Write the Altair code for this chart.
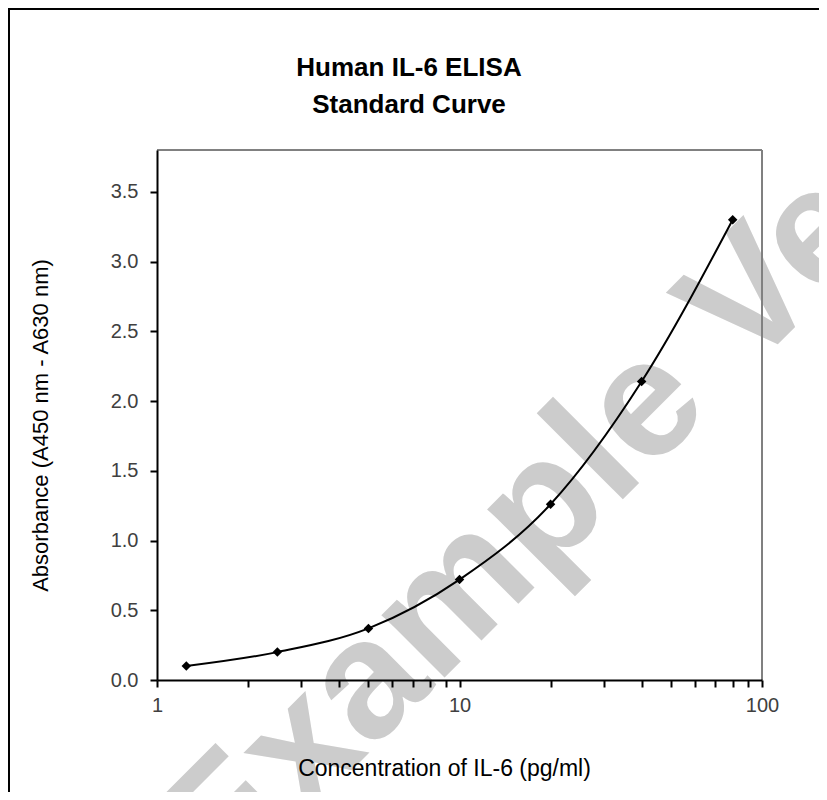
import altair as alt
import pandas as pd

# ---- data ----
conc = [1.25, 2.5, 5, 10, 20, 40, 80]
absorbance = [0.10, 0.20, 0.37, 0.72, 1.26, 2.14, 3.30]
x_tick_values = [1, 2, 3, 4, 5, 6, 7, 8, 9, 10, 20, 30, 40, 50, 60, 70, 80, 90, 100]
x_label_values = [1, 10, 100]
y_tick_values = [0.0, 0.5, 1.0, 1.5, 2.0, 2.5, 3.0, 3.5]
title_lines = ["Human IL-6 ELISA", "Standard Curve"]
x_title = "Concentration of IL-6 (pg/ml)"
y_title = "Absorbance (A450 nm - A630 nm)"
watermark = ["Example Version"]

FONT = "Liberation Sans"
W, H = 605, 530

df = pd.DataFrame({"conc": conc, "absorbance": absorbance})

label_expr = " || ".join(f"datum.value == {v}" for v in x_label_values)
label_expr = f"({label_expr}) ? format(datum.value, 'd') : ''"

xs = alt.Scale(type="log", domain=[1, 100], nice=False)
ys = alt.Scale(domain=[0, 3.8], nice=False, zero=True)

x_axis = alt.Axis(values=x_tick_values, labelExpr=label_expr, title=x_title,
                  labelPadding=8, titlePadding=42, titleX=287, labelFlush=False,
                  titleFontSize=23, zindex=2)
y_axis = alt.Axis(values=y_tick_values, format=".1f", title=y_title,
                  labelPadding=12, titlePadding=58, titleFontSize=22, titleY=275,
                  zindex=2)

base = alt.Chart(df)

wm = alt.Chart(pd.DataFrame({"t": watermark})).mark_text(
    angle=315, fontSize=168, fontWeight="bold", color="#cccccc",
    align="left", baseline="alphabetic", font=FONT
).encode(text="t:N", x=alt.value(68), y=alt.value(747))

title_y = [-82, -45]
title_marks = [
    alt.Chart(pd.DataFrame({"t": [txt]})).mark_text(
        fontSize=26, fontWeight="bold", font=FONT, color="black",
        align="center", baseline="middle"
    ).encode(text="t:N", x=alt.value(252), y=alt.value(ty))
    for txt, ty in zip(title_lines, title_y)
]

top_border = base.mark_rule(color="#808080", strokeWidth=1).encode(
    x=alt.value(0), x2=alt.value(W), y=alt.value(0))
right_border = base.mark_rule(color="#808080", strokeWidth=1).encode(
    x=alt.value(W), y=alt.value(0), y2=alt.value(H))
frame_top = base.mark_rule(color="#000000", strokeWidth=3).encode(
    x=alt.value(-150), x2=alt.value(W + 60), y=alt.value(-142))
frame_left = base.mark_rule(color="#000000", strokeWidth=3).encode(
    x=alt.value(-149), y=alt.value(-142), y2=alt.value(H + 120))

line = base.mark_line(color="black", strokeWidth=2, interpolate="monotone").encode(
    x=alt.X("conc:Q", scale=xs, axis=x_axis),
    y=alt.Y("absorbance:Q", scale=ys, axis=y_axis),
)
pts = base.mark_point(shape="diamond", filled=True, color="black", size=90, opacity=1).encode(
    x=alt.X("conc:Q", scale=xs),
    y=alt.Y("absorbance:Q", scale=ys),
)

chart = alt.layer(wm, top_border, right_border, frame_top, frame_left, *title_marks, line, pts).properties(
    width=W, height=H,
    padding={"left": 149, "top": 142, "right": 57, "bottom": 112},
    autosize=alt.AutoSizeParams(type="none"),
).configure_view(stroke=None).configure_axis(
    labelFont=FONT, titleFont=FONT, labelFontSize=20, titleFontSize=22,
    labelColor="#404040", titleColor="black", titleFontWeight="normal",
    domainColor="black", domainWidth=2, tickColor="black", tickWidth=2, tickSize=7,
    grid=False,
)

chart.save("out.html", embed_options={"renderer": "svg", "actions": False})
